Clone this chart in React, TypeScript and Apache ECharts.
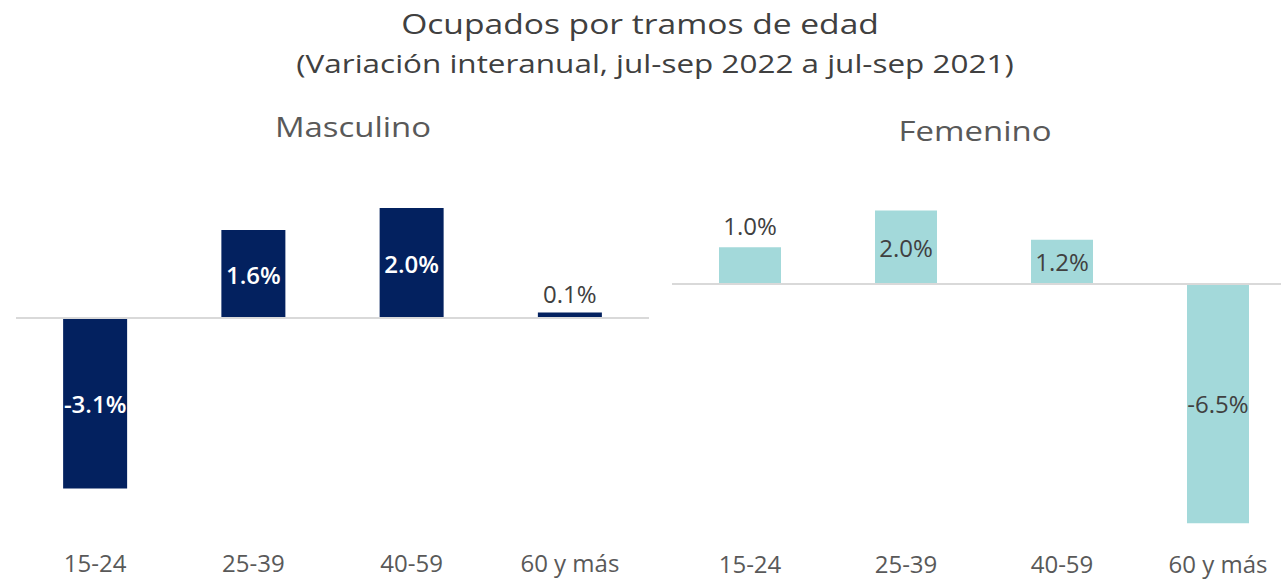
import React, { useEffect, useRef } from "react";
import * as echarts from "echarts";

const categories = ["15-24", "25-39", "40-59", "60 y más"];
const masculino = [-3.1, 1.6, 2.0, 0.1];
const femenino = [1.0, 2.0, 1.2, -6.5];
const masculinoLabelPos = ["inside", "inside", "inside", "top"];
const femeninoLabelPos = ["top", "inside", "inside", "inside"];
const title = "Ocupados por tramos de edad";
const subtitle = "(Variación interanual, jul-sep 2022 a jul-sep 2021)";
const panelTitles = ["Masculino", "Femenino"];

const FONT = "'Open Sans', sans-serif";
const NAVY = "#03215f";
const TEAL = "#a3d9da";
const DARK = "#404040";
const GREY = "#595959";

export default function App() {
  const ref = useRef<HTMLDivElement>(null);
  useEffect(() => {
    if (!ref.current) return;
    const chart = echarts.init(ref.current, undefined, { renderer: "svg" });
    const fmt = (p: any) => `${Number(p.value).toFixed(1)}%`;
    const zeroLine = {
      silent: true,
      symbol: "none",
      label: { show: false },
      lineStyle: { color: "#d9d9d9", width: 2, type: "solid" },
      data: [{ yAxis: 0 }],
    };
    const txt = (text: string, x: number, y: number, size: number, color: string, sx: number) => ({
      type: "text",
      x,
      y,
      scaleX: sx,
      silent: true,
      style: {
        text,
        fontFamily: FONT,
        fontSize: size,
        fill: color,
        textAlign: "center",
        textVerticalAlign: "middle",
      },
    });
    chart.setOption({
      animation: false,
      backgroundColor: "#ffffff",
      textStyle: { fontFamily: FONT },
      graphic: [
        txt(title, 640, 23, 28, DARK, 1.2),
        txt(subtitle, 655, 63, 26, DARK, 1.21),
        txt(panelTitles[0], 353, 127, 27, GREY, 1.22),
        txt(panelTitles[1], 975, 131, 27, GREY, 1.22),
      ],
      grid: [
        { left: 16, width: 633, top: 153, height: 385 },
        { left: 672, width: 624, top: 173.6, height: 368 },
      ],
      xAxis: [0, 1].map((i) => ({
        type: "category",
        gridIndex: i,
        data: categories,
        axisLine: { show: false },
        axisTick: { show: false },
        axisLabel: { color: GREY, fontSize: 24, fontFamily: FONT, margin: i === 0 ? 12 : 10 },
      })),
      yAxis: [
        { type: "value", gridIndex: 0, min: -4, max: 3, show: false },
        { type: "value", gridIndex: 1, min: -7, max: 3, show: false },
      ],
      series: [
        {
          type: "bar",
          xAxisIndex: 0,
          yAxisIndex: 0,
          barWidth: 64,
          itemStyle: { color: NAVY },
          markLine: zeroLine,
          data: masculino.map((v, i) => ({
            value: v,
            label: {
              show: true,
              position: masculinoLabelPos[i],
              formatter: fmt,
              fontSize: 24,
              fontFamily: FONT,
              fontWeight: masculinoLabelPos[i] === "inside" ? 600 : "normal",
              color: masculinoLabelPos[i] === "inside" ? "#ffffff" : DARK,
              distance: 7,
            },
          })),
        },
        {
          type: "bar",
          xAxisIndex: 1,
          yAxisIndex: 1,
          barWidth: 62,
          itemStyle: { color: TEAL },
          markLine: zeroLine,
          data: femenino.map((v, i) => ({
            value: v,
            label: {
              show: true,
              position: femeninoLabelPos[i],
              formatter: fmt,
              fontSize: 24,
              fontFamily: FONT,
              color: DARK,
              distance: 10,
            },
          })),
        },
      ],
    });
    return () => chart.dispose();
  }, []);
  return (
    <div
      style={{ position: "absolute", left: 0, top: 0, width: 1281, height: 580, overflow: "hidden" }}
    >
      <div ref={ref} style={{ width: 1300, height: 580 }} />
    </div>
  );
}
